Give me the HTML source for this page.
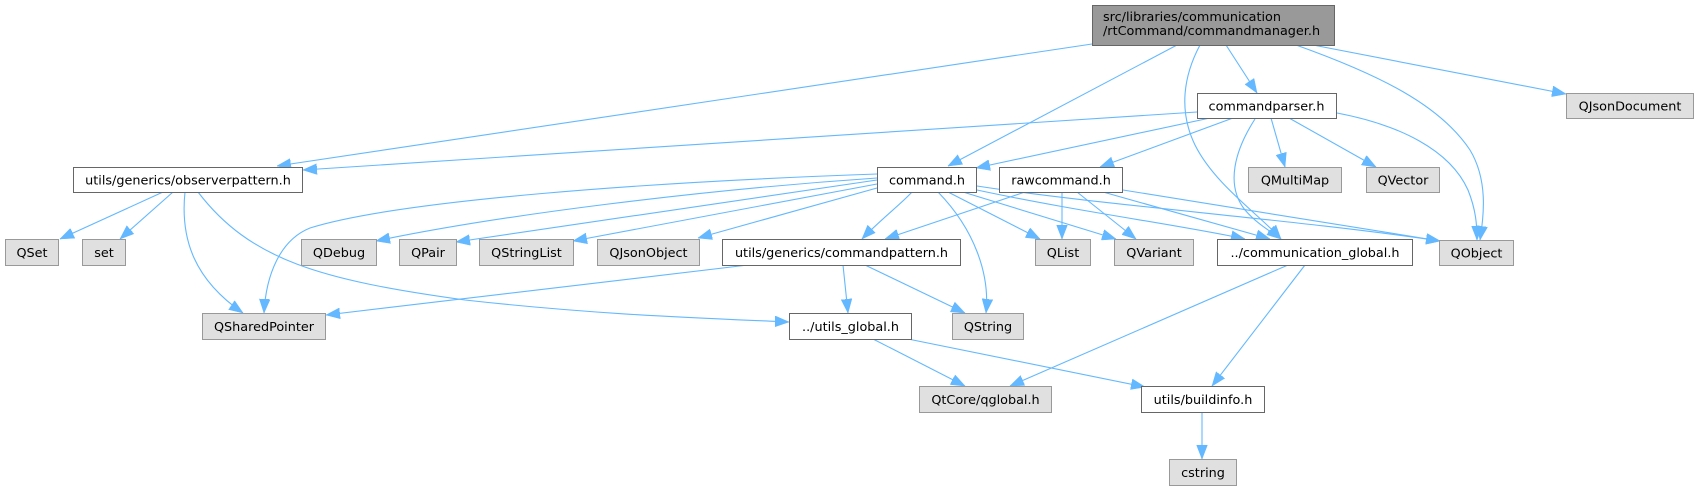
<!DOCTYPE html>
<html>
<head>
<meta charset="utf-8">
<style>
  html, body { margin: 0; padding: 0; background: #ffffff; }
  body { width: 1698px; height: 491px; overflow: hidden; }
  svg { display: block; }
  text { font-family: "DejaVu Sans", "Liberation Sans", sans-serif; font-size: 12.8px; fill: #000; }
  .e { fill: none; stroke: #63b8ff; stroke-width: 1.1; marker-end: url(#ah); }
  .n { fill: #ffffff; stroke: #666666; stroke-width: 1; }
  .x { fill: #e0e0e0; stroke: #999999; stroke-width: 1; }
  .r { fill: #999999; stroke: #666666; stroke-width: 1; }
</style>
</head>
<body>
<svg width="1698" height="491" viewBox="0 0 1698 491" xmlns="http://www.w3.org/2000/svg">
  <defs>
    <marker id="ah" markerUnits="userSpaceOnUse" markerWidth="14" markerHeight="11" viewBox="0 0 13 10" refX="13" refY="5" orient="auto">
      <path d="M0,0 L13,5 L0,10 z" fill="#63b8ff" stroke="#63b8ff" stroke-width="0.5"/>
    </marker>
  </defs>

  <!-- Edges -->
  <!-- commandmanager -->
  <path class="e" d="M1092,44 L277,166"/>
  <path class="e" d="M1177,45 L948,166"/>
  <path class="e" d="M1226,45 L1257,93"/>
  <path class="e" d="M1200,45 C1184,75 1178,110 1195,145 C1215,185 1260,215 1281,239"/>
  <path class="e" d="M1296,45 C1380,75 1440,105 1470,150 C1488,180 1484,215 1480,240"/>
  <path class="e" d="M1313,45 L1566,94"/>

  <!-- commandparser -->
  <path class="e" d="M1197,112 L303,170"/>
  <path class="e" d="M1210,118 L976,168"/>
  <path class="e" d="M1233,118 L1100,167"/>
  <path class="e" d="M1255,119 C1235,150 1225,185 1245,210 C1258,225 1272,232 1281,239"/>
  <path class="e" d="M1271,118 L1285,167"/>
  <path class="e" d="M1289,118 L1376,167"/>
  <path class="e" d="M1337,113 C1400,125 1450,150 1468,190 C1476,210 1477,225 1477,240"/>

  <!-- observerpattern -->
  <path class="e" d="M163,192 L60,239"/>
  <path class="e" d="M173,192 L120,239"/>
  <path class="e" d="M185,192 C180,240 195,280 243,313"/>
  <path class="e" d="M198,192 C250,260 320,280 465,300 C600,315 700,318 789,322"/>

  <!-- command.h -->
  <path class="e" d="M877,174 C650,182 400,200 310,228 C280,240 266,275 264,313"/>
  <path class="e" d="M877,178 C700,190 500,215 376,241"/>
  <path class="e" d="M877,180 L456,242"/>
  <path class="e" d="M877,184 L573,241"/>
  <path class="e" d="M877,188 L698,238"/>
  <path class="e" d="M912,192 C900,205 880,220 862,239"/>
  <path class="e" d="M938,192 C975,230 990,275 986,313"/>
  <path class="e" d="M948,192 L1040,239"/>
  <path class="e" d="M963,192 L1116,239"/>
  <path class="e" d="M977,190 C1080,212 1180,225 1245,239"/>
  <path class="e" d="M977,186 C1100,205 1300,220 1440,241"/>

  <!-- rawcommand.h -->
  <path class="e" d="M1025,192 L885,239"/>
  <path class="e" d="M1062,192 L1062,239"/>
  <path class="e" d="M1077,192 L1136,239"/>
  <path class="e" d="M1103,192 L1270,239"/>
  <path class="e" d="M1123,190 L1440,241"/>

  <!-- commandpattern -->
  <path class="e" d="M748,265 L326,315"/>
  <path class="e" d="M843,265 L848,313"/>
  <path class="e" d="M865,265 L965,313"/>

  <!-- utils_global -->
  <path class="e" d="M873,339 L965,386"/>
  <path class="e" d="M908,339 L1145,387"/>

  <!-- communication_global -->
  <path class="e" d="M1288,265 L1010,386"/>
  <path class="e" d="M1305,265 L1212,386"/>

  <!-- buildinfo -->
  <path class="e" d="M1202,412 L1202,459"/>

  <!-- Nodes -->
  <rect class="r" x="1092.5" y="5.5" width="242" height="40"/>
  <text x="1103" y="21">src/libraries/communication</text>
  <text x="1103" y="35">/rtCommand/commandmanager.h</text>

  <rect class="n" x="1197.5" y="93.5" width="139" height="25"/>
  <text x="1266.5" y="110.5" text-anchor="middle">commandparser.h</text>

  <rect class="x" x="1566.5" y="93.5" width="127" height="25"/>
  <text x="1630" y="110.5" text-anchor="middle">QJsonDocument</text>

  <rect class="n" x="73.5" y="167.5" width="229" height="25"/>
  <text x="188" y="184.5" text-anchor="middle">utils/generics/observerpattern.h</text>

  <rect class="n" x="877.5" y="167.5" width="99" height="25"/>
  <text x="927" y="184.5" text-anchor="middle">command.h</text>

  <rect class="n" x="999.5" y="167.5" width="123" height="25"/>
  <text x="1061" y="184.5" text-anchor="middle">rawcommand.h</text>

  <rect class="x" x="1248.5" y="167.5" width="93" height="25"/>
  <text x="1295" y="184.5" text-anchor="middle">QMultiMap</text>

  <rect class="x" x="1366.5" y="167.5" width="73" height="25"/>
  <text x="1403" y="184.5" text-anchor="middle">QVector</text>

  <rect class="x" x="5.5" y="239.5" width="53" height="26"/>
  <text x="32" y="257" text-anchor="middle">QSet</text>

  <rect class="x" x="82.5" y="239.5" width="43" height="26"/>
  <text x="104" y="257" text-anchor="middle">set</text>

  <rect class="x" x="301.5" y="239.5" width="75" height="26"/>
  <text x="339" y="257" text-anchor="middle">QDebug</text>

  <rect class="x" x="399.5" y="239.5" width="57" height="26"/>
  <text x="428" y="257" text-anchor="middle">QPair</text>

  <rect class="x" x="479.5" y="239.5" width="94" height="26"/>
  <text x="526.5" y="257" text-anchor="middle">QStringList</text>

  <rect class="x" x="597.5" y="239.5" width="102" height="26"/>
  <text x="648.5" y="257" text-anchor="middle">QJsonObject</text>

  <rect class="n" x="722.5" y="239.5" width="238" height="26"/>
  <text x="841.5" y="257" text-anchor="middle">utils/generics/commandpattern.h</text>

  <rect class="x" x="1035.5" y="239.5" width="55" height="26"/>
  <text x="1063" y="257" text-anchor="middle">QList</text>

  <rect class="x" x="1114.5" y="239.5" width="79" height="26"/>
  <text x="1154" y="257" text-anchor="middle">QVariant</text>

  <rect class="n" x="1217.5" y="239.5" width="195" height="26"/>
  <text x="1315" y="257" text-anchor="middle">../communication_global.h</text>

  <rect class="x" x="1439.5" y="240.5" width="74" height="25"/>
  <text x="1476.5" y="257.5" text-anchor="middle">QObject</text>

  <rect class="x" x="202.5" y="313.5" width="123" height="26"/>
  <text x="264" y="331" text-anchor="middle">QSharedPointer</text>

  <rect class="n" x="789.5" y="313.5" width="122" height="26"/>
  <text x="850.5" y="331" text-anchor="middle">../utils_global.h</text>

  <rect class="x" x="952.5" y="313.5" width="71" height="26"/>
  <text x="988" y="331" text-anchor="middle">QString</text>

  <rect class="x" x="919.5" y="386.5" width="132" height="26"/>
  <text x="985.5" y="404" text-anchor="middle">QtCore/qglobal.h</text>

  <rect class="n" x="1141.5" y="386.5" width="123" height="26"/>
  <text x="1203" y="404" text-anchor="middle">utils/buildinfo.h</text>

  <rect class="x" x="1169.5" y="459.5" width="67" height="26"/>
  <text x="1203" y="477" text-anchor="middle">cstring</text>
</svg>
</body>
</html>
